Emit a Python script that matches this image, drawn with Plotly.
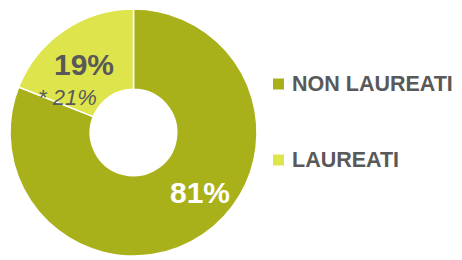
import plotly.graph_objects as go

categories = ["NON LAUREATI", "LAUREATI"]
values = [81, 19]
colors = ["#A9B11A", "#DEE54C"]
note_label = "* 21%"

W, H = 462, 260
OX, OY = 8, 8  # page body offset compensation


def px(x):
    return (x - OX) / W


def py(y):
    return 1 - (y - OY) / H


fig = go.Figure()
fig.add_trace(go.Pie(
    labels=categories,
    values=values,
    sort=False,
    direction="clockwise",
    rotation=0,
    hole=0.35,
    marker=dict(colors=colors, line=dict(color="white", width=1.5)),
    textinfo="none",
    hoverinfo="label+percent",
    showlegend=False,
    domain=dict(x=[px(10), px(257)], y=[py(257), py(8)]),
))

FONT = "Liberation Sans, Arial, sans-serif"
GRAY = "#595959"
total = sum(values)
pct = [round(v * 100 / total) for v in values]

ann = []
ann.append(dict(x=px(200), y=py(192), xref="paper", yref="paper",
                xanchor="center", yanchor="middle",
                text=f"<b>{pct[0]}%</b>", showarrow=False,
                font=dict(family=FONT, size=30, color="white")))
ann.append(dict(x=px(84), y=py(64), xref="paper", yref="paper",
                xanchor="center", yanchor="middle",
                text=f"<b>{pct[1]}%</b>", showarrow=False,
                font=dict(family=FONT, size=30, color=GRAY)))
ann.append(dict(x=px(68), y=py(97), xref="paper", yref="paper",
                xanchor="center", yanchor="middle",
                text=f"<i>{note_label}</i>", showarrow=False,
                font=dict(family=FONT, size=22, color=GRAY)))

shapes = []
leg_y = [84, 160]
for i, cat in enumerate(categories):
    yc = leg_y[i]
    shapes.append(dict(type="rect", xref="paper", yref="paper",
                       x0=px(273), x1=px(284), y0=py(yc + 5.5), y1=py(yc - 5.5),
                       fillcolor=colors[i], line=dict(width=0)))
    ann.append(dict(x=px(290), y=py(yc), xref="paper", yref="paper",
                    xanchor="left", yanchor="middle",
                    text=f"<b>{cat}</b>", showarrow=False,
                    font=dict(family=FONT, size=21.5, color=GRAY)))

fig.update_layout(
    width=W, height=H,
    margin=dict(l=0, r=0, t=0, b=0),
    paper_bgcolor="white",
    plot_bgcolor="white",
    annotations=ann,
    shapes=shapes,
)

fig.write_html("out.html")
